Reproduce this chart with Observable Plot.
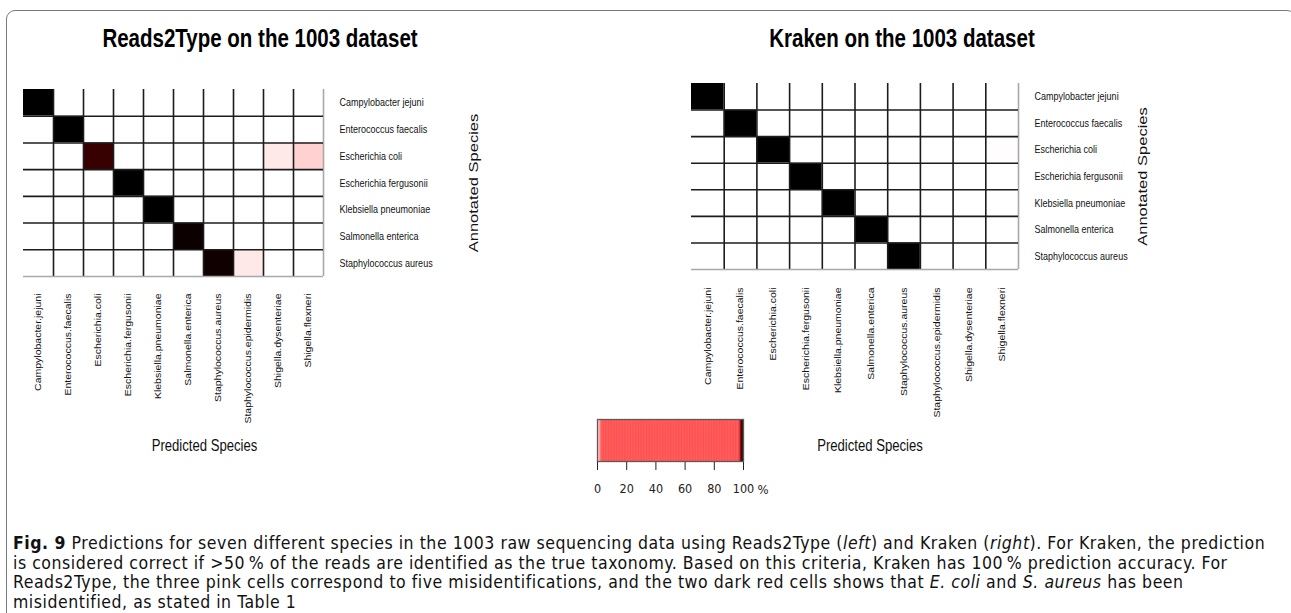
<!DOCTYPE html>
<html>
<head>
<meta charset="utf-8">
<script src="https://cdn.jsdelivr.net/npm/d3@7"></script>
<script src="https://cdn.jsdelivr.net/npm/@observablehq/plot@0.6"></script>
<style>
html, body { margin: 0; padding: 0; background: #fff; }
#root { position: relative; width: 1291px; height: 613px; overflow: hidden; background: #fff; }
.box { position: absolute; left: 6px; top: 10px; width: 1290px; height: 720px; border: 1.5px solid #7a7a7a; border-radius: 9px; box-sizing: border-box; }
.title { position: absolute; top: 26px; transform: translateX(-50%) scaleX(0.82); font-family: "Liberation Sans", Arial, sans-serif; font-weight: bold; font-size: 25px; line-height: 1; white-space: nowrap; color: #000; }
.plot { position: absolute; }
#caption { position: absolute; left: 13px; top: 534px; font-family: "DejaVu Sans Condensed", "DejaVu Sans", sans-serif; font-stretch: condensed; font-size: 17.5px; line-height: 19.5px; white-space: nowrap; color: #111; }
#caption span.line { display: inline-block; }
</style>
</head>
<body>
<div id="root">
  <div class="box"></div>
  <div class="title" style="left:260px">Reads2Type on the 1003 dataset</div>
  <div class="title" style="left:902px">Kraken on the 1003 dataset</div>
  <div class="plot" id="left" style="left:0px;top:60px"></div>
  <div class="plot" id="right" style="left:640px;top:60px"></div>
  <div class="plot" id="bar" style="left:580px;top:400px"></div>
  <div id="caption"><span class="line" id="cap1"><b>Fig. 9</b> Predictions for seven different species in the 1003 raw sequencing data using Reads2Type (<i>left</i>) and Kraken (<i>right</i>). For Kraken, the prediction</span><br><span class="line">is considered correct if &gt;50&#8201;% of the reads are identified as the true taxonomy. Based on this criteria, Kraken has 100&#8201;% prediction accuracy. For</span><br><span class="line">Reads2Type, the three pink cells correspond to five misidentifications, and the two dark red cells shows that <i>E. coli</i> and <i>S. aureus</i> has been</span><br><span class="line">misidentified, as stated in Table 1</span></div>
</div>
<script>
// Annotated (true) species: rows
const annotatedSpecies = [
  "Campylobacter jejuni", "Enterococcus faecalis", "Escherichia coli",
  "Escherichia fergusonii", "Klebsiella pneumoniae", "Salmonella enterica",
  "Staphylococcus aureus"
];
// Predicted species: columns
const predictedSpecies = [
  "Campylobacter.jejuni", "Enterococcus.faecalis", "Escherichia.coli",
  "Escherichia.fergusonii", "Klebsiella.pneumoniae", "Salmonella.enterica",
  "Staphylococcus.aureus", "Staphylococcus.epidermidis", "Shigella.dysenteriae",
  "Shigella.flexneri"
];
// Percent of reads (row = annotated species, column = predicted species)
const reads2typePercent = [
  [100, 0, 0, 0, 0, 0, 0, 0, 0, 0],
  [0, 100, 0, 0, 0, 0, 0, 0, 0, 0],
  [0, 0, 99.3, 0, 0, 0, 0, 0, 0.4, 0.8],
  [0, 0, 0, 100, 0, 0, 0, 0, 0, 0],
  [0, 0, 0, 0, 100, 0, 0, 0, 0, 0],
  [0, 0, 0, 0, 0, 99.85, 0, 0, 0, 0],
  [0, 0, 0, 0, 0, 0, 99.8, 0.4, 0, 0]
];
const krakenPercent = [
  [100, 0, 0, 0, 0, 0, 0, 0, 0, 0],
  [0, 100, 0, 0, 0, 0, 0, 0, 0, 0],
  [0, 0, 100, 0, 0, 0, 0, 0, 0, 0.03],
  [0, 0, 0, 100, 0, 0, 0, 0, 0, 0],
  [0, 0, 0, 0, 100, 0, 0, 0, 0, 0],
  [0, 0, 0, 0, 0, 100, 0, 0, 0, 0],
  [0, 0, 0, 0, 0, 0, 100, 0, 0, 0]
];
const colorbarTicks = [0, 20, 40, 60, 80, 100];
const colorStops = [0, 3, 97, 98.5, 100];
const colorRange = ["#ffffff", "#ff5252", "#ff5252", "#780000", "#000000"];

const REGULAR = "'Liberation Sans', Arial, sans-serif";
const SQUEEZE = 0.82;
const colorScale = {type: "linear", domain: colorStops, range: colorRange, clamp: true};

// The original figure is horizontally condensed: squeeze each text glyph horizontally.
function squeezeTexts(svg) {
  svg.querySelectorAll("text").forEach(t => {
    let tr = t.getAttribute("transform");
    if (!tr) {
      const x = t.getAttribute("x") || 0, y = t.getAttribute("y") || 0;
      t.removeAttribute("x"); t.removeAttribute("y");
      tr = `translate(${x},${y})`;
    }
    t.setAttribute("transform", tr + (tr.includes("rotate") ? ` scale(1,${SQUEEZE})` : ` scale(${SQUEEZE},1)`));
  });
}

function heatmap(values, o) {
  const nC = predictedSpecies.length, nR = annotatedSpecies.length;
  const cells = values.flatMap((row, r) => row.map((v, c) => ({row: r, col: c, value: v})));
  const svg = Plot.plot({
    width: o.width, height: o.height,
    marginLeft: o.ml, marginRight: o.mr, marginTop: o.mt, marginBottom: o.mb,
    style: {fontFamily: REGULAR, fontSize: "10.5px", color: "#111", background: "transparent", overflow: "visible"},
    x: {type: "linear", domain: [0, nC], ticks: d3.range(nC).map(i => i + 0.5),
        tickFormat: i => predictedSpecies[Math.floor(i)], tickRotate: -90,
        tickSize: 0, tickPadding: o.xPad, label: null, axis: "bottom"},
    y: {type: "linear", domain: [0, nR], reverse: true, ticks: d3.range(nR).map(i => i + 0.5),
        tickFormat: i => annotatedSpecies[Math.floor(i)], tickSize: 0, tickPadding: 16,
        label: null, axis: "right"},
    color: colorScale,
    marks: [
      Plot.rect(cells, {x1: "col", x2: d => d.col + 1, y1: "row", y2: d => d.row + 1, fill: "value"}),
      Plot.ruleX(d3.range(1, nC), {stroke: "#1c1c1c", strokeWidth: 1.6}),
      Plot.ruleX([nC], {stroke: "#a9a9a9", strokeWidth: 1.6}),
      Plot.ruleY(d3.range(1, nR), {stroke: "#1c1c1c", strokeWidth: 1.6}),
      Plot.ruleY([nR], {stroke: "#a9a9a9", strokeWidth: 1.6}),
      Plot.text(["Annotated Species"], {text: d => d, frameAnchor: "right", dx: o.annDx, rotate: -90,
        textAnchor: "middle", lineAnchor: "middle", fontSize: 16.5, fill: "#111"}),
      Plot.text(["Predicted Species"], {text: d => d, frameAnchor: "bottom", dx: o.predDx, dy: o.predDy,
        textAnchor: "middle", lineAnchor: "middle", fontSize: 16, fill: "#111"})
    ]
  });
  svg.querySelectorAll('g[aria-label="y-axis tick label"]').forEach(g => g.setAttribute("font-size", 11));
  squeezeTexts(svg);
  return svg;
}

document.getElementById("left").appendChild(heatmap(reads2typePercent, {
  width: 520, height: 410, ml: 23, mr: 197, mt: 29, mb: 194, xPad: 17,
  annDx: 150, predDx: 31, predDy: 169
}));
document.getElementById("right").appendChild(heatmap(krakenPercent, {
  width: 540, height: 410, ml: 51, mr: 162, mt: 23, mb: 201, xPad: 18,
  annDx: 124, predDx: 15, predDy: 176
}));

const rampSteps = d3.range(0, 100, 0.5);
document.getElementById("bar").appendChild(Plot.plot({
  width: 220, height: 100, marginLeft: 17, marginRight: 57, marginTop: 19, marginBottom: 39,
  style: {fontFamily: "'DejaVu Sans Condensed', 'DejaVu Sans', sans-serif", fontSize: "12.5px", color: "#222", background: "transparent", overflow: "visible"},
  x: {type: "linear", domain: [0, 100], ticks: colorbarTicks, tickSize: 9, tickPadding: 14, label: null},
  y: {axis: null},
  color: colorScale,
  marks: [
    Plot.rect(rampSteps, {x1: d => d, x2: d => Math.min(100, d + 0.8), fill: d => d + 0.25}),
    Plot.frame({stroke: "#5a5a5a", strokeWidth: 1.3}),
    Plot.text(["%"], {text: d => d, x: () => 100, frameAnchor: "bottom", dx: 14, dy: 23,
      textAnchor: "start", lineAnchor: "top", fontSize: 13, fill: "#222"})
  ]
}));

// fit the caption's letter spacing so the first line spans the same width as in the figure
const cap1 = document.getElementById("cap1");
const target = 1252;
const w = cap1.getBoundingClientRect().width;
const n = cap1.textContent.length;
document.getElementById("caption").style.letterSpacing = ((target - w) / n).toFixed(3) + "px";
</script>
</body>
</html>
